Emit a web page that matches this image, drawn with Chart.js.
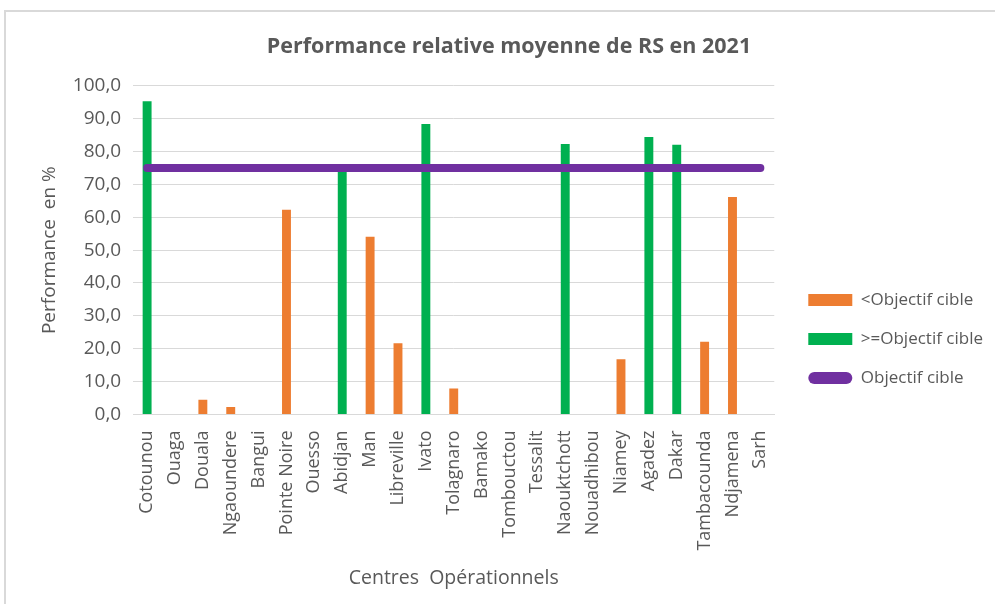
<!DOCTYPE html>
<html>
<head>
  <meta charset="UTF-8">
  <title>Performance relative moyenne de RS en 2021</title>
  <script src="https://cdn.jsdelivr.net/npm/chart.js"></script>
  <style>
    body { margin: 0; background: #fff; overflow: hidden; }
    #frame {
      position: absolute; left: 4px; top: 10px;
      width: 1005px; height: 592px;
      border-left: 2px solid #d9d9d9; border-top: 2px solid #d9d9d9;
    }
    canvas { display: block; }
  </style>
</head>
<body>
  <div id="frame"><canvas id="perfChart" width="1005" height="592"></canvas></div>

  <script>
    const centres = ["Cotounou", "Ouaga", "Douala", "Ngaoundere", "Bangui", "Pointe Noire", "Ouesso",
      "Abidjan", "Man", "Libreville", "Ivato", "Tolagnaro", "Bamako", "Tombouctou", "Tessalit",
      "Naouktchott", "Nouadhibou", "Niamey", "Agadez", "Dakar", "Tambacounda", "Ndjamena", "Sarh"];
    // < objectif
    const sousObjectif = [null, null, 4.5, 2.3, null, 62.3, null, null, 54.1, 21.7, null, 7.9, null, null, null,
      null, null, 16.8, null, null, 22.1, 66.2, null];
    // >= objectif
    const auDessusObjectif = [95.3, null, null, null, null, null, null, 76.2, null, null, 88.4, null, null, null, null,
      82.3, null, null, 84.4, 82.1, null, null, null];
    const objectifCible = [75, 75, 75, 75, 75, 75, 75, 75, 75, 75, 75, 75, 75, 75, 75, 75, 75, 75, 75, 75, 75, 75, 75];

    const grey = '#595959';
    Chart.defaults.font.family = "'Open Sans', sans-serif";
    Chart.defaults.color = grey;

    // pousse la légende (à droite, vers le bas) et le titre à leur place
    const nudge = {
      id: 'nudge',
      afterLayout(chart) {
        const lg = chart.legend;
        lg.left += 12; lg.right += 12;
        lg.top += 34; lg.bottom += 34;
        const tb = chart.titleBlock;
        tb.left += 7; tb.right += 7;
      }
    };

    const ctx = document.getElementById("perfChart").getContext("2d");
    new Chart(ctx, {
      type: 'bar',
      data: {
        labels: centres,
        datasets: [
          {
            label: '<Objectif cible',
            data: sousObjectif,
            backgroundColor: '#ED7D31',
            grouped: false,
            categoryPercentage: 1,
            barPercentage: 0.32
          },
          {
            label: '>=Objectif cible',
            data: auDessusObjectif,
            backgroundColor: '#00B050',
            grouped: false,
            categoryPercentage: 1,
            barPercentage: 0.32
          },
          {
            type: 'line',
            label: 'Objectif cible',
            data: objectifCible,
            borderColor: '#7030A0',
            backgroundColor: '#7030A0',
            borderWidth: 8,
            borderCapStyle: 'round',
            pointRadius: 0,
            fill: false,
            order: -1
          }
        ]
      },
      options: {
        responsive: false,
        animation: false,
        layout: { padding: { left: 17, right: 30, top: 0, bottom: 6 } },
        plugins: {
          title: {
            display: true,
            text: 'Performance relative moyenne de RS en 2021',
            color: grey,
            font: { size: 21.5, weight: 'bold' },
            padding: { top: 22, bottom: 26 }
          },
          legend: {
            position: 'right',
            labels: {
              boxWidth: 44,
              boxHeight: 12,
              padding: 22,
              color: grey,
              font: { size: 17 },
              useBorderRadius: true,
              generateLabels: chart => chart.data.datasets.map((ds, i) => ({
                text: ds.label,
                fillStyle: ds.type === 'line' ? ds.borderColor : ds.backgroundColor,
                strokeStyle: 'rgba(0,0,0,0)',
                lineWidth: 0,
                borderRadius: ds.type === 'line' ? 6 : 0,
                fontColor: grey,
                hidden: false,
                datasetIndex: i
              }))
            }
          },
          tooltip: { enabled: false }
        },
        scales: {
          x: {
            grid: { display: false, drawTicks: false },
            border: { color: '#d9d9d9', width: 1 },
            ticks: { minRotation: 90, maxRotation: 90, padding: 16, color: grey, font: { size: 18 }, autoSkip: false },
            title: {
              display: true,
              text: 'Centres  Opérationnels',
              color: grey,
              font: { size: 19.5 },
              padding: { top: 0, bottom: 8 }
            }
          },
          y: {
            min: 0,
            max: 100,
            ticks: {
              stepSize: 10,
              padding: 12,
              color: grey,
              font: { size: 19 },
              callback: v => v.toFixed(1).replace('.', ',')
            },
            grid: { color: '#d9d9d9', lineWidth: 1, drawTicks: false },
            border: { display: false },
            title: {
              display: true,
              text: 'Performance  en %',
              color: grey,
              font: { size: 19 },
              padding: { top: 15, bottom: 0 }
            }
          }
        }
      },
      plugins: [nudge]
    });
  </script>
</body>
</html>
